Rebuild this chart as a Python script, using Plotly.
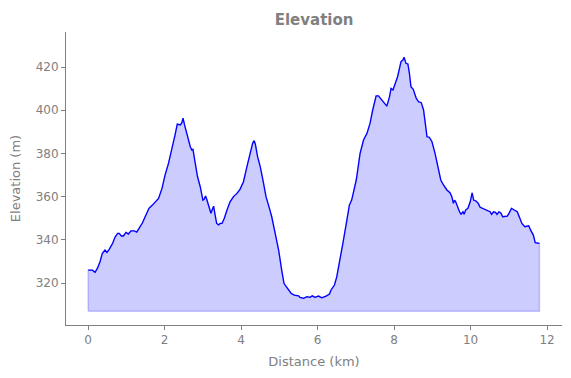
import plotly.graph_objects as go

distance_km = [
    0.00, 0.11, 0.18, 0.24, 0.31, 0.37, 0.44, 0.49, 0.55, 0.64, 0.70, 0.77, 0.81, 0.87, 0.92,
    0.99, 1.05, 1.12, 1.20, 1.27, 1.33, 1.42, 1.51, 1.59, 1.68, 1.77, 1.84, 1.93, 2.01, 2.10,
    2.19, 2.27, 2.33, 2.41, 2.45, 2.48, 2.52, 2.60, 2.67, 2.71, 2.74, 2.80, 2.86, 2.93, 3.00,
    3.03, 3.07, 3.10, 3.17, 3.21, 3.24, 3.28, 3.32, 3.36, 3.41, 3.45, 3.50, 3.56, 3.63, 3.71,
    3.80, 3.89, 3.97, 4.06, 4.15, 4.24, 4.30, 4.34, 4.37, 4.43, 4.50, 4.57, 4.65, 4.74, 4.80,
    4.89, 4.98, 5.06, 5.12, 5.18, 5.24, 5.31, 5.39, 5.50, 5.54, 5.63, 5.72, 5.80, 5.86, 5.93,
    6.02, 6.11, 6.22, 6.31, 6.35, 6.44, 6.50, 6.57, 6.66, 6.75, 6.83, 6.89, 6.95, 7.01, 7.11,
    7.20, 7.29, 7.37, 7.44, 7.53, 7.59, 7.68, 7.74, 7.81, 7.88, 7.92, 7.97, 8.03, 8.09, 8.14,
    8.18, 8.23, 8.26, 8.31, 8.36, 8.40, 8.44, 8.50, 8.58, 8.64, 8.71, 8.77, 8.81, 8.86, 8.92,
    8.99, 9.07, 9.16, 9.22, 9.29, 9.38, 9.46, 9.51, 9.55, 9.58, 9.61, 9.66, 9.71, 9.75, 9.80,
    9.83, 9.87, 9.93, 9.99, 10.04, 10.08, 10.14, 10.20, 10.25, 10.32, 10.38, 10.44, 10.51, 10.55, 10.60,
    10.65, 10.69, 10.74, 10.79, 10.84, 10.90, 10.96, 11.01, 11.07, 11.14, 11.22, 11.28, 11.34, 11.42, 11.48,
    11.52, 11.57, 11.64, 11.69, 11.75, 11.80,
]

elevation_m = [
    326.0, 326.0, 325.0, 326.8, 329.9, 333.8, 335.3, 334.2, 335.6, 338.4, 341.2, 343.0, 343.0, 341.8, 341.8,
    343.5, 342.7, 344.2, 344.2, 343.6, 345.3, 347.9, 351.5, 354.6, 356.1, 357.6, 359.2, 363.8, 370.0, 375.4,
    381.6, 388.5, 393.6, 393.2, 394.2, 396.3, 393.2, 387.7, 383.1, 381.6, 381.9, 375.4, 369.2, 364.6, 358.4,
    358.8, 360.3, 358.8, 355.3, 352.3, 353.8, 355.6, 351.5, 347.6, 346.9, 347.6, 347.6, 350.0, 353.8, 357.6,
    360.0, 361.5, 363.4, 366.9, 373.8, 380.0, 384.7, 385.9, 384.4, 378.5, 373.8, 367.7, 360.0, 354.6, 350.7,
    343.0, 335.3, 326.0, 319.9, 318.3, 317.1, 315.2, 314.4, 314.1, 313.4, 312.9, 313.7, 313.4, 314.1, 313.4,
    314.0, 313.2, 314.0, 314.9, 316.8, 319.1, 322.9, 329.1, 338.4, 347.6, 356.1, 358.4, 363.1, 367.7, 380.0,
    386.2, 389.3, 393.9, 400.1, 406.6, 406.6, 404.7, 403.9, 401.9, 406.3, 410.1, 409.4, 412.7, 415.5, 419.4,
    422.5, 423.2, 424.5, 421.7, 421.4, 417.1, 410.9, 409.7, 405.5, 403.9, 403.5, 400.1, 395.5, 387.7, 387.5,
    385.4, 380.0, 373.1, 367.7, 365.4, 363.1, 361.8, 360.0, 356.9, 358.4, 357.6, 355.1, 353.0, 351.9, 353.0,
    351.9, 353.8, 354.6, 357.6, 361.8, 358.4, 358.0, 356.9, 355.1, 354.6, 354.1, 353.5, 353.0, 351.8, 353.0,
    352.7, 351.8, 353.0, 352.5, 350.7, 351.0, 351.0, 352.5, 354.6, 353.8, 353.0, 350.4, 347.6, 346.1, 346.4,
    346.5, 344.5, 342.2, 338.7, 338.4, 338.4,
]

fill_base = 307.0
x_ticks = [0, 2, 4, 6, 8, 10, 12]
y_ticks = [320, 340, 360, 380, 400, 420]

GRAY = "#808080"
FONT = "DejaVu Sans"

poly_x = [distance_km[0]] + distance_km + [distance_km[-1], distance_km[0]]
poly_y = [fill_base] + elevation_m + [fill_base, fill_base]

fig = go.Figure()
fig.add_trace(go.Scatter(
    x=poly_x, y=poly_y, mode="lines", fill="toself",
    fillcolor="rgba(0,0,255,0.2)", line=dict(color="rgba(0,0,255,0.2)", width=1.5),
    hoverinfo="skip", showlegend=False,
))
fig.add_trace(go.Scatter(
    x=distance_km, y=elevation_m, mode="lines",
    line=dict(color="#0000ff", width=1.3), showlegend=False,
))

axis_common = dict(
    showgrid=False, zeroline=False, showline=True, linecolor=GRAY, linewidth=1,
    ticks="outside", ticklen=4, tickwidth=1, tickcolor=GRAY, automargin=False,
    tickfont=dict(family=FONT, size=12, color=GRAY),
    title_font=dict(family=FONT, size=13, color=GRAY),
)

fig.update_layout(
    width=571, height=378,
    paper_bgcolor="white", plot_bgcolor="white",
    margin=dict(l=58, r=17, t=24, b=61),
    title=dict(text="<b>Elevation</b>", x=0.536, xanchor="center", y=0.97, yanchor="middle",
               font=dict(family=FONT, size=15, color=GRAY)),
    xaxis=dict(range=[-0.58, 12.39], tickvals=x_ticks, title=dict(text="Distance (km)", standoff=10), **axis_common),
    yaxis=dict(range=[300.6, 436.2], tickvals=y_ticks, title=dict(text="Elevation (m)", standoff=12), **axis_common),
)

fig.write_html("out.html")
